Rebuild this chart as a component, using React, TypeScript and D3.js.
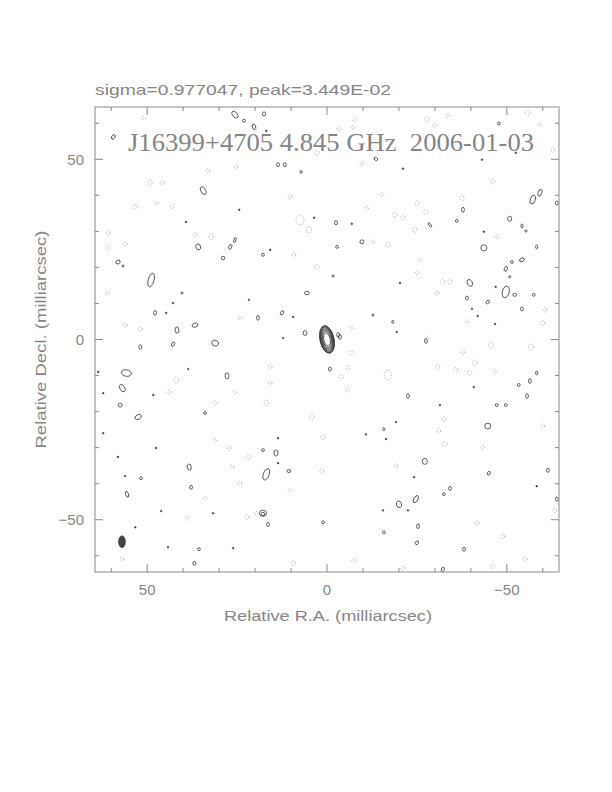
import React from 'react'
import * as d3 from 'd3'

// map extent (mas) and labels
const raRange = [64.5, -64.5]
const decRange = [-64.5, 64.5]
const tickMinor = d3.range(-60, 61, 10)
const tickMajor = [-50, 0, 50]
const title = 'sigma=0.977047, peak=3.449E-02'
const label = 'J16399+4705 4.845 GHz  2006-01-03'
const xTitle = 'Relative R.A. (milliarcsec)'
const yTitle = 'Relative Decl. (milliarcsec)'

// core component: gaussian fwhm (mas) and PA (deg), contour levels as fraction of peak
const coreFwhm = [4.0, 2.0]
const corePa = 12
const coreLevels = [0.07, 0.085, 0.1, 0.14, 0.2, 0.28, 0.4, 0.57]

// restoring beam [ra, dec, major, minor, pa]
const beam = [57, -56.1, 3.3, 1.9, 0]

// positive noise contours [ra, dec, w, h, pa]
const posBlobs = [
  [25.6, 62.4, 2.2, 1.3, -50], [23.1, 60.7, 0.8, 0.8, 0], [17.5, 62.6, 0.9, 1.1, 0], [20.3, 59.0, 0.9, 1.6, 20],
  [16.9, 57.9, 0.5, 0.5, 0], [59.4, 56.2, 0.9, 1.4, -30], [13.6, 48.5, 0.8, 1.1, 0], [11.7, 48.5, 0.8, 1.1, 0],
  [7.2, 46.5, 0.6, 0.8, 0], [34.4, 41.3, 1.3, 2.3, 30], [24.4, 36.0, 0.5, 0.5, 0], [39.2, 32.6, 0.5, 0.5, 0],
  [3.6, 33.8, 0.5, 0.5, 0], [35.8, 25.7, 1.3, 1.7, 20], [26.9, 25.7, 0.8, 1.4, -20], [25.6, 27.6, 0.6, 1.4, -20],
  [28.9, 22.6, 1.0, 1.0, 0], [17.8, 23.5, 0.8, 0.8, 0], [15.8, 24.9, 0.5, 0.5, 0], [58.1, 21.5, 1.3, 1.0, 30],
  [56.7, 20.4, 0.6, 0.6, 0], [48.9, 16.5, 1.6, 3.9, -15], [40.3, 12.9, 0.6, 0.6, 0], [42.8, 10.1, 0.5, 0.5, 0],
  [21.7, 11.0, 0.5, 0.5, 0], [5.6, 12.9, 1.3, 1.0, 0], [47.8, 7.4, 0.8, 1.3, 0], [44.7, 7.4, 0.5, 0.5, 0],
  [19.2, 6.0, 0.8, 1.3, 0], [12.5, 7.4, 0.8, 1.3, -30], [9.4, 6.3, 0.5, 0.5, 0], [41.7, 2.6, 1.1, 1.7, 10],
  [36.7, 4.0, 1.7, 1.1, 20], [6.1, 1.8, 1.1, 1.4, 0], [12.2, 0.4, 0.5, 0.5, 0], [-47.8, 59.9, 0.8, 0.8, 0],
  [-52.5, 51.8, 0.5, 0.5, 0], [-43.1, 49.9, 0.5, 0.5, 0], [-13.6, 50.1, 1.1, 0.8, -30], [-21.1, 47.4, 0.5, 0.5, 0],
  [-59.2, 40.7, 1.0, 2.0, -20], [-57.2, 38.8, 1.4, 2.5, -20], [-37.8, 36.0, 0.8, 1.4, 0], [-36.1, 32.9, 0.8, 0.8, 0],
  [-50.8, 33.5, 1.1, 1.4, 0], [-54.2, 31.5, 0.6, 1.1, 0], [-55.3, 30.1, 0.6, 0.6, 0], [-2.5, 32.4, 0.8, 1.1, 0],
  [-6.9, 32.1, 0.5, 0.5, 0], [-28.6, 31.8, 0.6, 1.4, 40], [-43.6, 29.9, 0.5, 0.5, 0], [-2.8, 25.7, 0.8, 0.8, 0],
  [-9.7, 27.1, 1.1, 1.1, 0], [-43.6, 25.4, 1.7, 1.7, 0], [-58.3, 25.7, 0.6, 1.1, 0], [-51.4, 21.5, 0.8, 0.8, 0],
  [-54.2, 22.1, 1.4, 1.0, 30], [-49.7, 19.6, 0.8, 1.4, -20], [-50.8, 17.4, 0.6, 0.6, 0], [-1.7, 17.6, 0.6, 0.6, 0],
  [-20.3, 15.7, 0.5, 0.5, 0], [-39.7, 15.7, 1.4, 2.0, 30], [-46.9, 14.6, 0.5, 0.5, 0], [-49.7, 13.2, 1.9, 3.3, -15],
  [-52.2, 12.4, 1.1, 0.8, 0], [-38.9, 11.5, 0.8, 1.1, 0], [-44.7, 10.4, 0.8, 1.1, -40], [-57.5, 12.4, 0.8, 0.8, 0],
  [-54.2, 8.5, 0.8, 1.1, 0], [-40.3, 8.5, 0.5, 0.5, 0], [-41.9, 6.5, 0.5, 0.5, 0], [-12.8, 6.8, 0.6, 0.6, 0],
  [-18.3, 4.9, 0.6, 0.8, 0], [-19.4, 2.1, 0.5, 0.5, 0], [-46.7, 4.3, 0.5, 0.5, 0], [-3.1, 1.3, 0.8, 1.3, 0],
  [51.9, -2.1, 0.8, 1.3, 0], [42.8, -1.3, 0.8, 1.3, -30], [31.1, -1.0, 1.9, 1.6, -20], [55.8, -9.3, 2.8, 1.8, -10],
  [56.9, -13.5, 1.3, 2.2, 30], [27.8, -10.1, 1.1, 1.7, 0], [38.6, -8.2, 0.5, 0.5, 0], [57.5, -18.2, 1.1, 1.1, 0],
  [52.5, -21.5, 1.9, 1.3, 30], [48.3, -15.4, 0.5, 0.5, 0], [33.9, -20.4, 0.8, 0.8, 0], [47.5, -30.1, 0.5, 0.5, 0],
  [58.1, -32.6, 0.5, 0.5, 0], [38.3, -35.4, 1.1, 1.7, 10], [17.8, -30.7, 0.8, 0.8, 0], [14.2, -31.5, 1.1, 1.7, 0],
  [13.6, -34.3, 0.5, 0.5, 0], [16.9, -37.4, 1.6, 3.3, -20], [10.6, -36.5, 1.1, 0.8, 0], [51.7, -38.5, 0.8, 0.8, 0],
  [56.1, -37.9, 0.5, 0.5, 0], [37.8, -41.0, 0.8, 1.1, 0], [55.6, -42.9, 0.8, 1.7, 20], [46.1, -47.6, 0.5, 0.5, 0],
  [17.8, -48.2, 2.0, 1.7, 0], [17.8, -48.4, 1.0, 0.9, 0], [16.4, -51.3, 0.8, 1.1, 0], [31.7, -48.2, 0.5, 0.5, 0],
  [53.3, -52.1, 0.5, 0.5, 0], [1.1, -50.7, 0.8, 0.8, 0], [44.2, -57.6, 0.5, 0.5, 0], [35.6, -58.2, 0.8, 0.8, 0],
  [26.1, -57.9, 0.5, 0.5, 0], [36.9, -62.1, 0.8, 1.1, 0], [62.2, -14.9, 0.5, 0.5, 0], [62.2, -26.0, 0.5, 0.5, 0],
  [63.6, -9.0, 0.5, 0.5, 0], [13.6, -27.4, 0.5, 0.5, 0], [-3.6, 0.7, 0.8, 1.3, 0], [-27.5, -0.4, 0.8, 1.3, 0],
  [-0.8, -8.2, 0.8, 1.1, 0], [-22.5, -15.7, 0.8, 1.3, 0], [-31.4, -18.2, 0.5, 0.5, 0], [-40.8, -13.2, 0.5, 0.5, 0],
  [-47.2, -18.2, 0.8, 0.8, 0], [-49.7, -18.2, 0.8, 0.8, 0], [-53.3, -12.6, 0.8, 0.8, 0], [-56.4, -11.5, 0.8, 1.3, 0],
  [-58.3, -9.3, 0.6, 1.1, 0], [-55.6, -15.7, 0.8, 1.3, 0], [-44.7, -24.0, 1.7, 1.6, 0], [-19.2, -22.9, 0.5, 0.5, 0],
  [-15.8, -24.9, 0.6, 0.8, 0], [-10.8, -26.3, 0.5, 0.5, 0], [-16.4, -27.6, 0.5, 0.5, 0], [-27.2, -33.8, 1.4, 1.7, 0],
  [-45.0, -37.1, 0.8, 1.1, -30], [-61.4, -36.3, 0.8, 1.1, 0], [-24.2, -38.2, 0.5, 0.5, 0], [-58.3, -40.7, 0.5, 0.5, 0],
  [-34.2, -41.3, 0.8, 1.1, 0], [-32.5, -42.9, 0.8, 0.8, 0], [-24.7, -44.3, 1.1, 2.2, -30], [-20.0, -45.7, 1.4, 1.9, 20],
  [-15.6, -47.4, 0.5, 0.5, 0], [-22.5, -47.4, 0.5, 0.5, 0], [-25.3, -51.8, 0.8, 1.3, 0], [-15.8, -53.5, 0.8, 0.8, 0],
  [-25.0, -56.4, 0.8, 1.1, -30], [-38.1, -58.2, 0.8, 1.1, 0], [-32.2, -63.8, 0.8, 1.3, -20], [-63.9, -44.3, 0.8, 1.1, 0],
  [-63.9, 37.9, 0.8, 1.1, 0],
]

// negative noise contours [ra, dec, w, h]
const negBlobs = [
  [51.1, 61.5, 1.2, 0.8], [2.8, 51.8, 1.2, 1.4], [33.1, 46.8, 1.0, 1.2], [25.3, 47.9, 1.0, 1.2], [49.2, 43.5, 1.2, 1.6],
  [45.8, 43.5, 1.2, 1.0], [53.3, 36.8, 1.2, 1.4], [47.2, 37.9, 1.0, 0.8], [43.1, 36.8, 1.0, 1.0], [10.3, 39.6, 1.0, 1.2],
  [7.5, 33.2, 2.2, 2.8], [5.0, 30.4, 1.4, 1.8], [36.7, 29.0, 1.2, 1.2], [32.2, 28.5, 1.2, 1.6], [60.8, 29.6, 1.0, 1.2],
  [60.8, 25.4, 1.0, 1.4], [56.1, 26.5, 1.2, 1.0], [9.2, 23.5, 1.0, 1.2], [2.8, 20.1, 1.2, 1.4], [61.1, 12.9, 1.0, 1.0],
  [24.2, 6.0, 1.2, 1.0], [56.1, 4.0, 1.2, 1.0], [51.9, 2.9, 1.2, 1.0], [-7.8, 61.0, 1.2, 1.2], [-7.2, 58.8, 1.0, 1.0],
  [-3.3, 58.5, 1.0, 1.0], [-27.8, 61.0, 1.2, 1.4], [-30.0, 59.3, 1.2, 1.2], [-33.6, 62.1, 1.0, 1.0], [-55.8, 62.9, 1.4, 1.4],
  [-59.2, 59.6, 1.0, 1.0], [-62.8, 52.6, 1.0, 1.4], [-9.7, 49.0, 1.0, 1.0], [-46.1, 43.8, 1.2, 1.4], [-15.3, 40.1, 1.0, 1.0],
  [-25.0, 37.9, 1.2, 1.4], [-27.5, 35.4, 1.2, 1.2], [-37.5, 39.3, 1.2, 1.4], [-18.9, 34.6, 1.4, 1.2], [-21.1, 33.8, 1.2, 1.4],
  [-24.4, 30.4, 1.2, 1.4], [-11.1, 36.5, 1.0, 1.0], [-12.8, 27.1, 1.0, 1.0], [-16.9, 26.3, 1.2, 1.2], [-47.2, 28.5, 1.0, 1.0],
  [-25.8, 22.1, 1.0, 1.0], [-25.0, 18.5, 1.0, 1.0], [-32.2, 16.0, 1.2, 1.4], [-34.2, 16.0, 1.2, 1.4], [-30.6, 12.9, 1.0, 1.2],
  [-60.6, 8.2, 1.0, 1.2], [-60.0, 4.6, 1.0, 1.4], [-38.9, 4.9, 1.0, 1.0], [-6.9, 3.2, 1.0, 1.0], [-27.8, 0.4, 1.0, 1.0],
  [41.9, -11.3, 1.2, 1.6], [43.9, -14.6, 1.2, 1.0], [15.8, -7.6, 1.0, 1.4], [15.8, -12.1, 1.0, 1.2], [25.6, -14.6, 1.0, 1.0],
  [16.9, -17.6, 1.2, 1.6], [31.1, -17.6, 1.0, 1.0], [4.2, -21.5, 1.2, 1.6], [1.1, -27.1, 1.2, 1.4], [31.1, -27.9, 1.0, 1.0],
  [27.2, -30.1, 1.0, 1.2], [21.9, -32.6, 1.2, 1.4], [26.4, -35.4, 1.0, 1.2], [24.2, -39.9, 1.0, 1.2], [1.4, -36.5, 1.2, 1.2],
  [22.2, -49.3, 1.0, 1.2], [19.7, -48.2, 1.0, 1.0], [9.4, -62.1, 1.2, 1.4], [56.9, -60.9, 1.0, 1.0], [38.9, -49.6, 1.0, 1.0],
  [33.9, -44.0, 1.0, 1.0], [10.3, -41.8, 1.0, 1.0], [-6.9, -3.8, 1.2, 1.2], [-5.8, -7.9, 1.2, 1.2], [-3.9, -10.4, 1.2, 1.2],
  [-5.6, -14.0, 1.0, 1.0], [-16.9, -9.9, 2.0, 2.6], [-30.8, -7.6, 1.2, 1.4], [-35.8, -8.5, 1.2, 1.4], [-37.8, -3.5, 1.2, 1.2],
  [-41.1, -6.5, 1.4, 1.6], [-39.7, -9.3, 1.2, 1.2], [-45.6, -1.5, 1.4, 1.6], [-56.7, -2.1, 1.4, 1.6], [-46.7, -8.8, 1.0, 1.0],
  [-32.5, -22.1, 1.2, 1.4], [-31.1, -25.4, 1.0, 1.2], [-32.8, -29.0, 1.2, 1.4], [-43.3, -29.9, 1.0, 1.0], [-60.0, -24.0, 1.0, 1.2],
  [-19.2, -35.1, 1.0, 1.2], [-41.7, -51.0, 1.0, 1.2], [-48.9, -54.6, 1.0, 1.4], [-55.0, -60.9, 1.2, 1.0], [-46.1, -62.9, 1.2, 1.2],
  [-7.5, -61.3, 1.2, 1.0], [-21.1, -63.5, 1.2, 1.0], [-63.3, -47.4, 1.0, 1.2],
]

const W = 612
const H = 792
const left = 95
const right = 559
const top = 107
const bottom = 572
const grey = '#858585'
const ink = '#3a3a3a'

export default function App() {
  const x = d3.scaleLinear().domain(raRange).range([left, right])
  const y = d3.scaleLinear().domain(decRange).range([bottom, top])
  const k = Math.abs(x(1) - x(0)) // px per mas

  const sig = coreFwhm.map(f => f / 2.3548)
  const minorTicks = tickMinor.filter(t => !tickMajor.includes(t))
  const fmt = (t: number) => (t < 0 ? '\u2212' + Math.abs(t) : String(t))

  return (
    <svg width={W} height={H} style={{ position: 'absolute', left: 0, top: 0, background: '#fff' }}
      fontFamily="'Liberation Sans', Arial, sans-serif">
      <defs>
        <clipPath id="frame">
          <rect x={left} y={top} width={right - left} height={bottom - top} />
        </clipPath>
      </defs>

      <text x={left} y={95} fontSize={14.5} fill={grey} textLength={296} lengthAdjust="spacingAndGlyphs">{title}</text>

      <g clipPath="url(#frame)">
        {negBlobs.map((b, i) => (
          <ellipse key={'n' + i} cx={x(b[0])} cy={y(b[1])} rx={b[2] * k / 2} ry={b[3] * k / 2}
            fill="none" stroke="#8a8a8a" strokeWidth={0.8} strokeDasharray="0.9 1.6" />
        ))}
        {posBlobs.map((b, i) => {
          const small = b[2] <= 0.5
          return (
            <ellipse key={'p' + i} cx={x(b[0])} cy={y(b[1])} rx={b[2] * k / 2} ry={b[3] * k / 2}
              transform={`rotate(${-b[4]},${x(b[0])},${y(b[1])})`}
              fill={small ? ink : 'none'} stroke={ink} strokeWidth={small ? 0.4 : 0.8} />
          )
        })}
        {coreLevels.map((lv, i) => {
          const f = Math.sqrt(2 * Math.log(1 / lv))
          return (
            <ellipse key={'c' + i} cx={x(0)} cy={y(0)} rx={sig[1] * f * k} ry={sig[0] * f * k}
              transform={`rotate(${-corePa},${x(0)},${y(0)})`}
              fill="none" stroke={ink} strokeWidth={0.8} />
          )
        })}
        <ellipse cx={x(beam[0])} cy={y(beam[1])} rx={beam[3] * k / 2} ry={beam[2] * k / 2}
          transform={`rotate(${-beam[4]},${x(beam[0])},${y(beam[1])})`} fill="#444" stroke="#333" strokeWidth={0.6} />
      </g>

      <text x={128} y={151} fontSize={25} fill={grey} fontFamily="'Liberation Serif', 'DejaVu Serif', serif"
        textLength={406} lengthAdjust="spacingAndGlyphs" style={{ whiteSpace: 'pre' }}>{label}</text>

      <rect x={left} y={top} width={right - left} height={bottom - top} fill="none" stroke="#8a8a8a" strokeWidth={1} />
      <g stroke="#8a8a8a" strokeWidth={1}>
        {minorTicks.map(t => (
          <g key={'mt' + t}>
            <line x1={x(t)} x2={x(t)} y1={bottom} y2={bottom - 4} />
            <line x1={x(t)} x2={x(t)} y1={top} y2={top + 4} />
            <line y1={y(t)} y2={y(t)} x1={left} x2={left + 4} />
            <line y1={y(t)} y2={y(t)} x1={right} x2={right - 4} />
          </g>
        ))}
        {tickMajor.map(t => (
          <g key={'Mt' + t}>
            <line x1={x(t)} x2={x(t)} y1={bottom} y2={bottom - 8} />
            <line x1={x(t)} x2={x(t)} y1={top} y2={top + 8} />
            <line y1={y(t)} y2={y(t)} x1={left} x2={left + 8} />
            <line y1={y(t)} y2={y(t)} x1={right} x2={right - 8} />
          </g>
        ))}
      </g>

      <g fontSize={15} fill={grey}>
        {tickMajor.map(t => (
          <text key={'xl' + t} x={x(t)} y={595} textAnchor="middle">{fmt(t)}</text>
        ))}
        {tickMajor.map(t => (
          <text key={'yl' + t} x={84} y={y(t) + 5.5} textAnchor="end">{fmt(t)}</text>
        ))}
        <text x={x(0) + 1} y={621} textAnchor="middle" textLength={208} lengthAdjust="spacingAndGlyphs">{xTitle}</text>
        <text transform={`translate(46,${y(0)}) rotate(-90)`} textAnchor="middle" textLength={218}
          lengthAdjust="spacingAndGlyphs">{yTitle}</text>
      </g>
    </svg>
  )
}
